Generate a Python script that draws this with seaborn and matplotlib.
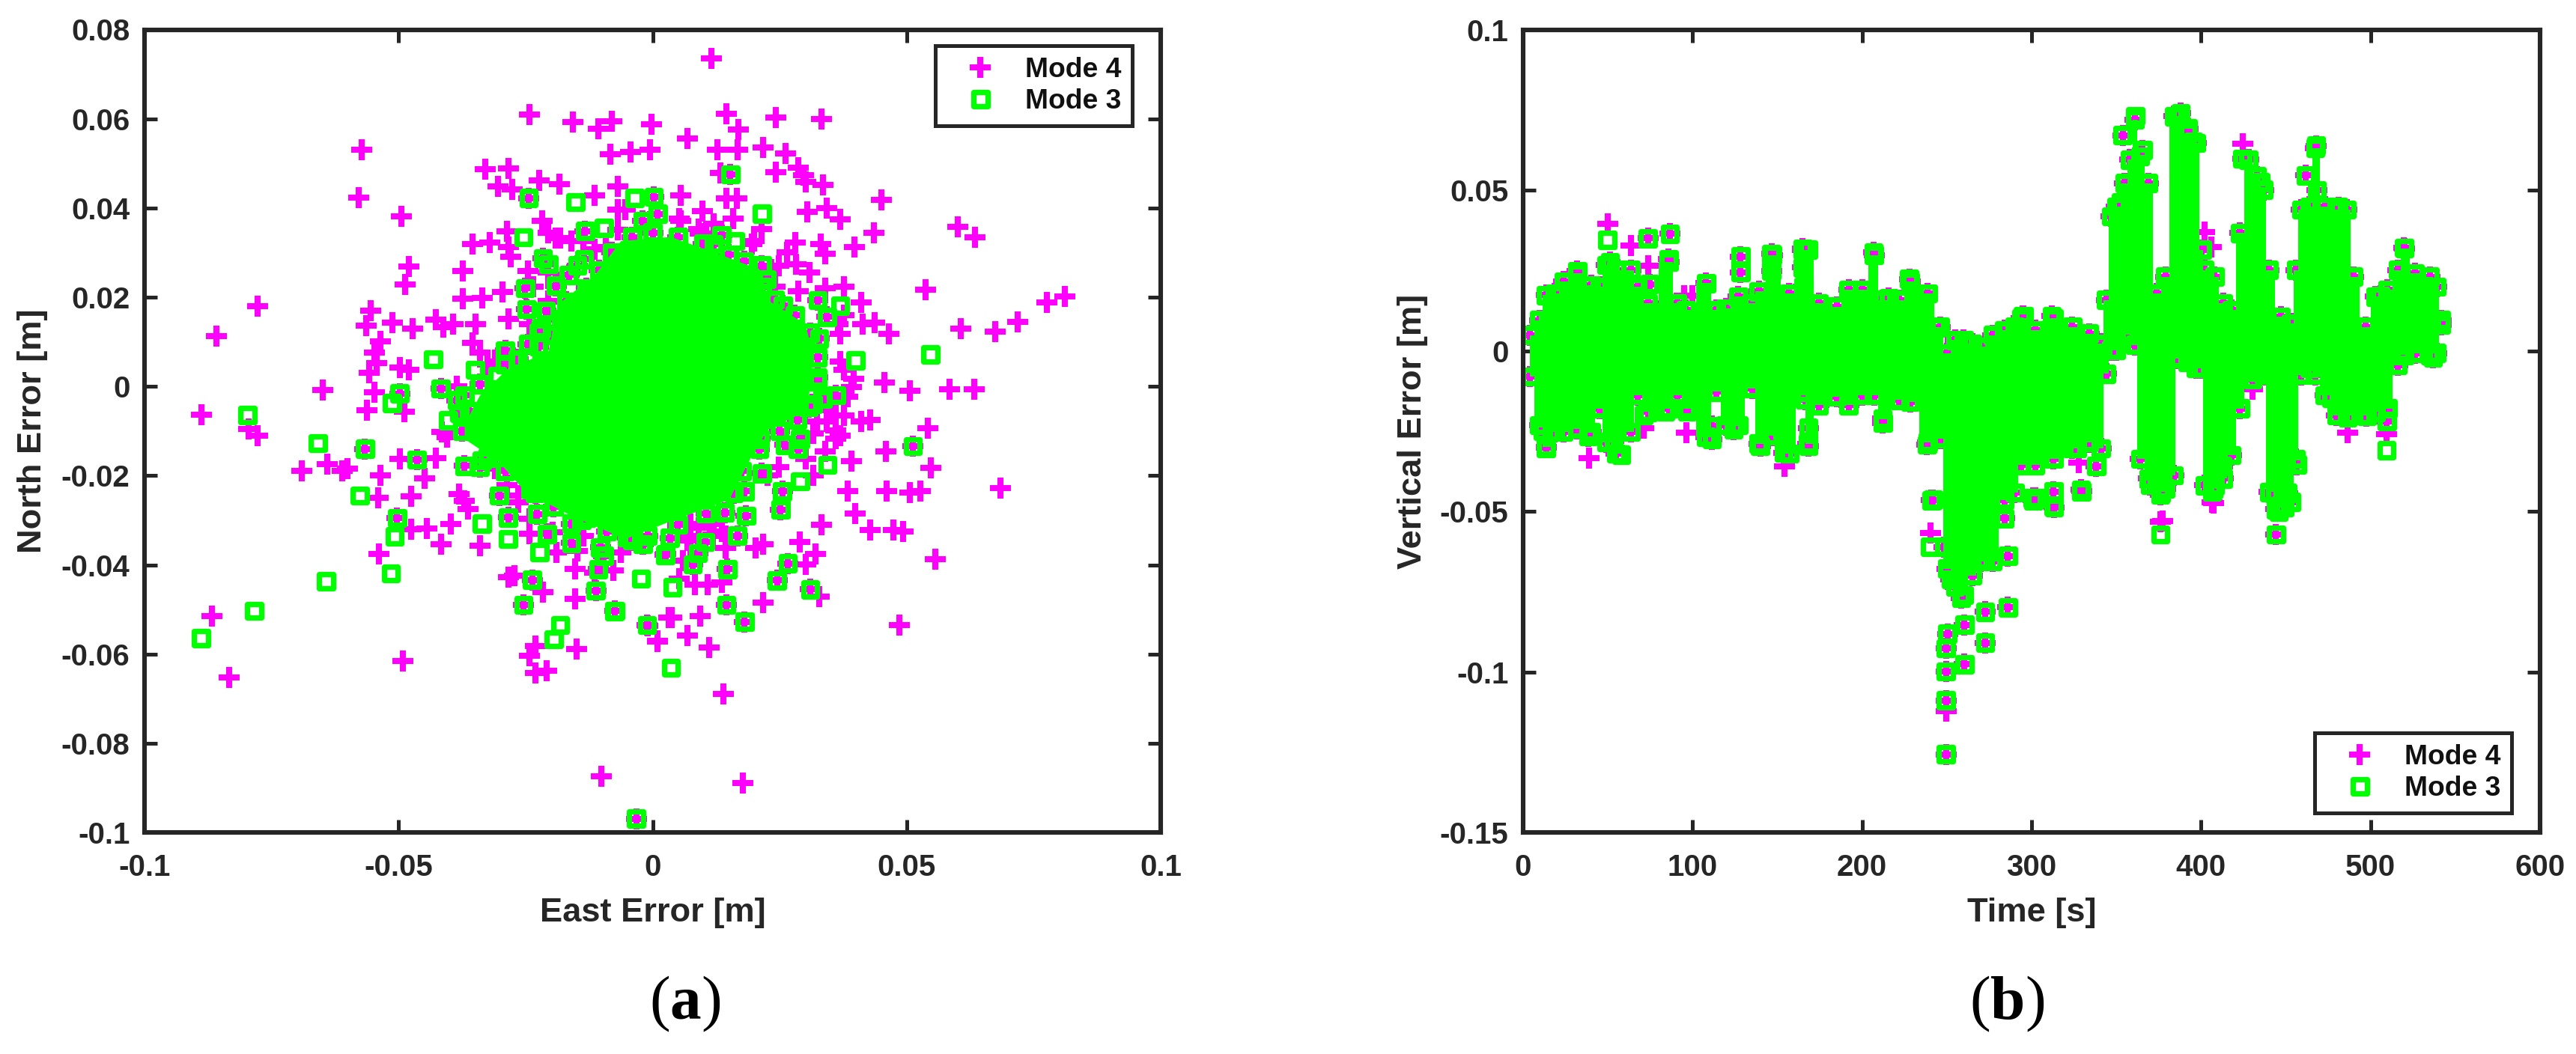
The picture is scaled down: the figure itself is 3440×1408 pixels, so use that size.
import numpy as np
import pandas as pd
import matplotlib
matplotlib.use("Agg")
import matplotlib.pyplot as plt
import seaborn as sns

MAGENTA = "#ff00ff"
GREEN = "#00ff00"
DARK = "#262626"

# panel (a): east / north error [m]
en_mode4_only = [
    (-0.0242, 0.0610), (-0.0157, 0.0593), (-0.0107, 0.0578), (-0.0081, 0.0594), (-0.0002, 0.0587),
    (-0.0084, 0.0520), (-0.0043, 0.0526), (-0.0005, 0.0531), (-0.0573, 0.0530), (-0.0579, 0.0424),
    (-0.0494, 0.0382), (-0.0330, 0.0487), (-0.0284, 0.0488), (-0.0304, 0.0449), (-0.0276, 0.0442),
    (-0.0223, 0.0461), (-0.0184, 0.0454), (-0.0069, 0.0449), (-0.0114, 0.0429), (-0.0218, 0.0371),
    (-0.0287, 0.0348), (-0.0355, 0.0319), (-0.0321, 0.0323), (-0.0284, 0.0313), (-0.0280, 0.0290),
    (-0.0191, 0.0332), (-0.0160, 0.0326), (-0.0114, 0.0307), (-0.0069, 0.0397), (-0.0479, 0.0269),
    (-0.0487, 0.0229), (-0.0374, 0.0258), (-0.0245, 0.0258), (-0.0777, 0.0180), (-0.0858, 0.0112),
    (-0.0555, 0.0170), (-0.0564, 0.0136), (-0.0512, 0.0143), (-0.0472, 0.0129), (-0.0427, 0.0149),
    (-0.0412, 0.0133), (-0.0393, 0.0139), (-0.0348, 0.0139), (-0.0284, 0.0152), (-0.0295, 0.0211),
    (-0.0336, 0.0199), (-0.0374, 0.0196), (-0.0536, 0.0101), (-0.0547, 0.0075), (-0.0543, 0.0053),
    (-0.0498, 0.0043), (-0.0479, 0.0037), (-0.0558, 0.0030), (-0.0355, 0.0098), (-0.0340, 0.0075),
    (-0.0310, 0.0056), (-0.0205, 0.0191), (-0.0205, 0.0152), (-0.0649, -0.0008), (-0.0547, -0.0013),
    (-0.0385, 0.0001), (-0.0888, -0.0064), (-0.0562, -0.0053), (-0.0489, -0.0057), (-0.0795, -0.0095),
    (-0.0777, -0.0111), (-0.0415, -0.0102), (-0.0404, -0.0114),
    (-0.0690, -0.0190), (-0.0641, -0.0175), (-0.0611, -0.0189), (-0.0600, -0.0185), (-0.0498, -0.0163),
    (-0.0536, -0.0200), (-0.0540, -0.0250), (-0.0476, -0.0246), (-0.0449, -0.0206), (-0.0427, -0.0161),
    (-0.0476, -0.0320), (-0.0445, -0.0318), (-0.0397, -0.0309), (-0.0417, -0.0354), (-0.0538, -0.0376),
    (-0.0381, -0.0241), (-0.0370, -0.0256), (-0.0363, -0.0275), (-0.0340, -0.0357), (-0.0242, -0.0331),
    (-0.0284, -0.0428), (-0.0272, -0.0425), (-0.0216, -0.0461), (-0.0152, -0.0410), (-0.0152, -0.0477),
    (-0.0077, -0.0413), (-0.0114, -0.0417), (-0.0148, -0.0369), (-0.0009, -0.0537), (0.0010, -0.0571),
    (0.0032, -0.0518), (-0.0868, -0.0515), (-0.0492, -0.0616), (-0.0833, -0.0652), (-0.0242, -0.0604),
    (-0.0231, -0.0582), (-0.0231, -0.0642), (-0.0208, -0.0638), (-0.0150, -0.0588), (-0.0101, -0.0874),
    (-0.0062, -0.0372), (-0.0190, -0.0372), (-0.0265, -0.0245),
    (0.0115, 0.0735), (0.0145, 0.0611), (0.0169, 0.0576), (0.0243, 0.0603), (0.0333, 0.0600),
    (0.0069, 0.0555), (0.0128, 0.0531), (0.0167, 0.0531), (0.0218, 0.0536), (0.0262, 0.0522),
    (0.0286, 0.0490), (0.0297, 0.0474), (0.0242, 0.0480), (0.0301, 0.0458), (0.0335, 0.0452),
    (0.0134, 0.0478), (0.0450, 0.0419), (0.0145, 0.0422), (0.0166, 0.0422), (0.0056, 0.0429),
    (0.0098, 0.0393), (0.0158, 0.0377), (0.0056, 0.0371), (0.0305, 0.0391), (0.0343, 0.0400),
    (0.0369, 0.0374), (0.0215, 0.0352), (0.0200, 0.0326), (0.0094, 0.0342), (0.0435, 0.0344),
    (0.0397, 0.0313), (0.0600, 0.0358), (0.0634, 0.0335), (0.0281, 0.0323), (0.0264, 0.0300),
    (0.0331, 0.0319), (0.0339, 0.0297), (0.0282, 0.0274), (0.0309, 0.0255), (0.0248, 0.0271),
    (0.0377, 0.0223), (0.0339, 0.0220), (0.0286, 0.0213), (0.0537, 0.0217), (0.0410, 0.0188),
    (0.0776, 0.0188), (0.0812, 0.0201), (0.0414, 0.0139), (0.0437, 0.0143), (0.0465, 0.0117),
    (0.0606, 0.0130), (0.0674, 0.0123), (0.0719, 0.0145), (0.0369, 0.0117), (0.0369, 0.0056),
    (0.0395, 0.0017), (0.0456, 0.0008), (0.0507, -0.0010), (0.0585, -0.0007), (0.0633, -0.0006),
    (0.0384, -0.0024), (0.0361, -0.0066), (0.0343, -0.0079), (0.0410, -0.0079), (0.0428, -0.0076),
    (0.0542, -0.0094), (0.0369, -0.0111),
    (0.0459, -0.0145), (0.0361, -0.0117), (0.0392, -0.0167), (0.0548, -0.0183), (0.0461, -0.0235),
    (0.0506, -0.0238), (0.0527, -0.0235), (0.0685, -0.0228), (0.0384, -0.0235), (0.0399, -0.0285),
    (0.0333, -0.0310), (0.0428, -0.0322), (0.0474, -0.0322), (0.0493, -0.0325), (0.0556, -0.0388),
    (0.0290, -0.0349), (0.0218, -0.0354), (0.0320, -0.0376), (0.0301, -0.0399), (0.0203, -0.0363),
    (0.0143, -0.0363), (0.0328, -0.0472), (0.0218, -0.0485), (0.0109, -0.0445), (0.0083, -0.0445),
    (0.0053, -0.0431), (0.0136, -0.0440), (0.0038, -0.0519), (0.0094, -0.0515), (0.0069, -0.0558),
    (0.0010, -0.0572), (0.0111, -0.0585), (0.0486, -0.0535), (0.0139, -0.0690), (0.0177, -0.0890),
    (0.0090, -0.0317), (0.0113, -0.0308), (0.0075, -0.0335), (0.0136, -0.0326), (0.0060, -0.0390),
    (0.0316, -0.0199),
    # the thicker pink fringe just outside the green core
    (0.0377, 0.0159), (0.0365, 0.0139), (0.0377, 0.0037), (0.0392, -0.0002), (0.0346, -0.0053),
    (0.0377, -0.0066), (0.0361, -0.0098), (0.0324, -0.0079), (0.0316, -0.0105), (0.0075, -0.0308),
    (0.0120, -0.0299), (0.0068, -0.0345), (0.0143, -0.0335), (0.0226, -0.0199), (0.0248, -0.0181),
    (0.0301, -0.0163), (0.0339, -0.0145), (-0.0205, 0.0345), (-0.0182, 0.0332), (-0.0137, 0.0326),
    (-0.0092, 0.0313), (-0.0205, 0.0255), (-0.0235, 0.0223), (-0.0242, 0.0139), (-0.0220, 0.0107),
    (-0.0295, 0.0075), (-0.0325, 0.0049), (-0.0054, 0.0397), (-0.0069, 0.0351), (-0.0310, -0.0185),
    (-0.0287, -0.0222), (-0.0265, -0.0260), (-0.0242, -0.0297), (-0.0197, -0.0327), (-0.0137, -0.0335),
    (0.0090, 0.0352), (0.0053, 0.0377), (0.0120, 0.0364), (0.0196, 0.0319), (0.0233, 0.0262),
    (0.0241, 0.0223),
]
en_mode3_only = [
    (-0.0797, -0.0064), (-0.0659, -0.0127), (-0.0432, 0.0061), (-0.0349, 0.0037), (-0.0513, -0.0037),
    (-0.0306, 0.0024), (-0.0254, 0.0334), (-0.0152, 0.0413), (-0.0096, 0.0355), (-0.0035, 0.0422),
    (-0.0576, -0.0245), (-0.0508, -0.0336), (-0.0515, -0.0419), (-0.0643, -0.0437), (-0.0784, -0.0503),
    (-0.0889, -0.0564), (-0.0336, -0.0308), (-0.0284, -0.0342), (-0.0223, -0.0372), (-0.0023, -0.0431),
    (-0.0182, -0.0535), (-0.0195, -0.0567), (0.0036, -0.0631), (0.0215, 0.0387), (0.0162, 0.0326),
    (0.0547, 0.0072), (0.0399, 0.0058), (0.0344, -0.0176), (0.0290, -0.0213), (-0.0402, -0.0076),
    (-0.0246, 0.0066), (0.0369, 0.0181), (-0.0075, -0.0504), (0.0039, -0.0450),
]
en_both = [
    (-0.0244, 0.0422), (-0.0566, -0.0140), (-0.0498, -0.0016), (-0.0417, -0.0005), (-0.0385, -0.0031),
    (-0.0225, 0.0121), (-0.0248, 0.0173), (-0.0251, 0.0220), (-0.0191, 0.0226), (-0.0148, 0.0271),
    (-0.0205, 0.0274), (-0.0216, 0.0287), (-0.0133, 0.0348), (0.0002, 0.0425), (0.0010, 0.0387),
    (-0.0020, 0.0371), (-0.0464, -0.0164), (-0.0370, -0.0178), (-0.0340, -0.0181), (-0.0336, -0.0166),
    (-0.0503, -0.0295), (-0.0302, -0.0245), (-0.0284, -0.0294), (-0.0227, -0.0286), (-0.0231, -0.0239),
    (-0.0208, -0.0331), (-0.0160, -0.0351), (-0.0160, -0.0308), (-0.0129, -0.0294), (-0.0103, -0.0361),
    (-0.0096, -0.0380), (-0.0107, -0.0410), (-0.0112, -0.0458), (-0.0237, -0.0434), (-0.0254, -0.0490),
    (-0.0074, -0.0503), (-0.0011, -0.0535), (-0.0032, -0.0969), (0.0025, -0.0378), (-0.0020, -0.0354),
    (-0.0050, -0.0339), (0.0153, 0.0475), (0.0136, 0.0339), (0.0120, 0.0319), (0.0215, 0.0271),
    (0.0215, 0.0223), (0.0256, 0.0181), (0.0325, 0.0193), (0.0343, 0.0156), (0.0328, 0.0107),
    (0.0324, 0.0011), (0.0361, -0.0020), (0.0335, -0.0028), (0.0307, -0.0047), (0.0211, -0.0118),
    (0.0290, -0.0118), (0.0512, -0.0134), (0.0286, -0.0140), (0.0260, -0.0131), (0.0215, -0.0195),
    (0.0181, -0.0235), (0.0255, -0.0235), (0.0252, -0.0276), (0.0142, -0.0283), (0.0184, -0.0290),
    (0.0167, -0.0335), (0.0104, -0.0349), (0.0089, -0.0374), (0.0079, -0.0399), (0.0147, -0.0410),
    (0.0266, -0.0397), (0.0245, -0.0435), (0.0310, -0.0455), (0.0145, -0.0490), (0.0181, -0.0528),
    (0.0026, -0.0376), (0.0034, -0.0340), (-0.0019, -0.0354),
    # squares along the rim of the solid core
    (-0.0340, 0.0005), (-0.0310, -0.0010), (-0.0362, -0.0055), (-0.0345, -0.0085), (-0.0290, 0.0050),
    (-0.0265, 0.0060), (-0.0225, 0.0090), (-0.0195, 0.0115), (-0.0180, 0.0150), (-0.0170, 0.0190),
    (-0.0130, 0.0220), (-0.0105, 0.0260), (-0.0080, 0.0300), (-0.0040, 0.0335), (0.0000, 0.0345),
    (0.0050, 0.0335), (0.0100, 0.0320), (0.0150, 0.0295), (0.0180, 0.0280), (0.0225, 0.0240),
    (0.0240, 0.0195), (0.0280, 0.0160), (0.0310, 0.0120), (0.0325, 0.0065), (0.0325, 0.0020),
    (0.0315, -0.0040), (0.0285, -0.0075), (0.0250, -0.0100), (0.0210, -0.0140), (0.0175, -0.0190),
    (0.0160, -0.0240), (0.0105, -0.0285), (0.0050, -0.0310), (-0.0010, -0.0335), (-0.0040, -0.0345),
    (-0.0090, -0.0325), (-0.0140, -0.0300), (-0.0195, -0.0270), (-0.0240, -0.0230), (-0.0290, -0.0190),
    (-0.0325, -0.0160), (-0.0375, -0.0100), (-0.0380, -0.0060), (-0.0370, -0.0020),
    (-0.0245, 0.0095), (-0.0220, 0.0130), (-0.0210, 0.0170), (-0.0190, 0.0225), (-0.0165, 0.0250),
    (-0.0135, 0.0285), (-0.0290, 0.0080),
]
# the middle of the cloud is solid green in the picture, no single mark can be read there,
# so it is kept as the outline of that region
core_east = [-0.0370, -0.0340, -0.0287, -0.0205, -0.0186, -0.0114, -0.0062, 0.0036, 0.0075, 0.0136,
             0.0211, 0.0230, 0.0301, 0.0316, 0.0305, 0.0226, 0.0196, 0.0151, 0.0023, -0.0060,
             -0.0069, -0.0160, -0.0250, -0.0302, -0.0370]
core_north = [-0.0085, -0.0021, 0.0037, 0.0078, 0.0184, 0.0249, 0.0326, 0.0335, 0.0319, 0.0294,
              0.0262, 0.0191, 0.0139, 0.0069, -0.0053, -0.0098, -0.0154, -0.0254, -0.0308, -0.0345,
              -0.0335, -0.0290, -0.0237, -0.0170, -0.0118]

# panel (b): same idea, envelope of the solid band over time
band_time = [4, 9.6, 13.6, 18.7, 23.8, 32, 40, 45, 49, 55, 63.5, 67.6, 73.7, 86, 91, 96, 108, 114, 119.6, 127,
             135, 139, 147, 157, 165, 168, 174.5, 185, 192, 200, 207, 212, 222, 228.5, 238.7, 246, 250, 255,
             260, 265, 270, 277, 284, 290, 294, 302, 313, 324, 334, 341, 344, 347, 350, 355, 358, 361, 364,
             369, 374, 379, 384, 386, 392, 397, 400.5, 402, 408, 413, 418, 423, 428, 433, 437, 440, 447, 453,
             456, 459, 464, 467.5, 473, 480, 486, 490, 497, 503, 510, 516, 520, 526, 535, 539, 541.5]
band_upper = [0.0078, 0.0125, 0.0203, 0.0208, 0.0245, 0.0271, 0.0234, 0.0229, 0.0297, 0.0281, 0.0281, 0.0229,
              0.0177, 0.0307, 0.0177, 0.0156, 0.0240, 0.0156, 0.0161, 0.0198, 0.0177, 0.0214, 0.0328, 0.0208,
              0.0344, 0.0344, 0.0177, 0.0167, 0.0219, 0.0219, 0.0328, 0.0188, 0.0188, 0.0245, 0.0208, 0.0104,
              0.0021, 0.0063, 0.0063, 0.0052, 0.0042, 0.0078, 0.0094, 0.0104, 0.0130, 0.0094, 0.0130, 0.0104,
              0.0083, 0.0052, 0.0188, 0.0448, 0.0479, 0.0552, 0.0625, 0.0750, 0.0635, 0.0552, 0.0208, 0.0260,
              0.0760, 0.0760, 0.0708, 0.0677, 0.0344, 0.0281, 0.0260, 0.0177, 0.0156, 0.0396, 0.0625, 0.0573,
              0.0531, 0.0281, 0.0135, 0.0115, 0.0281, 0.0469, 0.0479, 0.0661, 0.0479, 0.0469, 0.0469, 0.0260,
              0.0104, 0.0198, 0.0219, 0.0281, 0.0349, 0.0271, 0.0260, 0.0229, 0.0125]
band_lower = [-0.0109, -0.0260, -0.0328, -0.0281, -0.0281, -0.0271, -0.0281, -0.0208, -0.0313, -0.0349, -0.0281,
              -0.0167, -0.0219, -0.0208, -0.0167, -0.0208, -0.0297, -0.0156, -0.0260, -0.0260, -0.0146, -0.0318,
              -0.0292, -0.0349, -0.0156, -0.0318, -0.0198, -0.0172, -0.0198, -0.0167, -0.0167, -0.0240, -0.0182,
              -0.0188, -0.0313, -0.0302, -0.0707, -0.0763, -0.0790, -0.0729, -0.0684, -0.0684, -0.0493, -0.0470,
              -0.0385, -0.0385, -0.0365, -0.0333, -0.0313, -0.0333, -0.0100, -0.0026, -0.0026, 0.0021, 0.0021,
              -0.0010, -0.0365, -0.0427, -0.0438, -0.0458, -0.0417, -0.0052, -0.0063, -0.0083, -0.0083, -0.0448,
              -0.0448, -0.0427, -0.0354, -0.0208, -0.0094, -0.0094, -0.0104, -0.0469, -0.0510, -0.0500, -0.0365,
              -0.0104, -0.0083, -0.0104, -0.0167, -0.0229, -0.0229, -0.0229, -0.0229, -0.0219, -0.0208, -0.0073,
              -0.0042, -0.0036, -0.0042, -0.0036, 0.0052]

tv_mode4_only = [
    (49.9, 0.0396), (63.5, 0.0328), (73.7, 0.0266), (38.7, -0.0335), (71.0, -0.0240), (96.5, -0.0255),
    (154.2, -0.0359), (95.0, 0.0172), (100.0, 0.0172), (424.4, 0.0646), (401.9, 0.0370), (406.2, 0.0323),
    (486.5, -0.0255), (509.6, -0.0260), (328.0, -0.0349), (377.3, -0.0531), (407.3, -0.0474), (430.4, -0.0120),
    (240.2, -0.0566), (249.5, -0.1122), (376.0, -0.0533), (406.5, -0.0471),
]
tv_mode3_only = [
    (49.7, 0.0346), (57.8, -0.0323), (71.1, -0.0200), (83.9, -0.0188), (243.8, 0.0073), (361.2, 0.0732),
    (435.0, 0.0526), (509.4, -0.0310), (240.2, -0.0611), (376.0, -0.0572),
]
tv_both = [
    (73.7, 0.0351), (86.6, 0.0365), (128.3, 0.0294), (128.3, 0.0245), (146.6, 0.0302), (146.6, 0.0250),
    (165.0, 0.0318), (165.0, 0.0260), (165.4, 0.0200), (206.7, 0.0307), (227.9, 0.0224), (215.7, 0.0164),
    (32.0, 0.0248), (14.7, 0.0097), (51.3, 0.0276), (74.7, 0.0208), (85.9, 0.0286), (13.6, -0.0302),
    (11.6, -0.0250), (38.5, -0.0266), (53.4, -0.0281), (96.8, -0.0188), (111.4, -0.0276), (111.4, -0.0234),
    (124.2, -0.0245), (139.9, -0.0297), (153.2, -0.0250), (153.8, -0.0318), (168.4, -0.0297), (168.4, -0.0240),
    (166.4, -0.0151), (212.2, -0.0224), (238.3, -0.0292), (241.8, -0.0464), (295.3, 0.0109), (300.8, -0.0458),
    (388.0, 0.0740), (392.3, 0.0693), (353.7, 0.0672), (365.5, 0.0625), (352.7, 0.0464), (395.5, 0.0651),
    (424.4, 0.0599), (467.9, 0.0639), (461.9, 0.0547), (468.3, 0.0500), (481.2, 0.0448), (481.2, 0.0391),
    (519.7, 0.0321), (505.8, 0.0172), (351.6, 0.0349), (294.9, 0.0109), (312.0, 0.0109),
    (476.9, -0.0146), (486.5, -0.0208), (497.6, -0.0203), (509.6, -0.0219), (536.8, -0.0021), (338.1, -0.0359),
    (329.1, -0.0432), (302.4, -0.0458), (313.0, -0.0484), (313.0, -0.0438), (327.0, -0.0302), (376.2, -0.0443),
    (369.8, -0.0417), (377.3, -0.0394), (407.3, -0.0432), (412.6, -0.0359), (450.0, -0.0354), (456.5, -0.0354),
    (445.8, -0.0500), (443.7, -0.0448), (430.4, -0.0089), (241.0, -0.0465), (301.0, -0.0465), (313.2, -0.0488),
    (329.4, -0.0437), (284.0, -0.0521), (286.0, -0.0639), (286.0, -0.0799), (272.6, -0.0813), (272.6, -0.0909),
    (260.4, -0.0853), (260.4, -0.0976), (250.3, -0.0881), (249.5, -0.0926), (249.5, -0.0999), (249.5, -0.1089),
    (249.5, -0.1257), (258.4, -0.0769), (252.3, -0.0712), (406.5, -0.0437), (444.2, -0.0572), (444.2, -0.0493),
    (449.0, -0.0488), (376.0, -0.0448), (451.0, -0.0443), (272.6, -0.0651), (248.3, -0.0611),
]

a_xticks = [-0.1, -0.05, 0, 0.05, 0.1]
a_xlabels = ["-0.1", "-0.05", "0", "0.05", "0.1"]
a_yticks = [-0.1, -0.08, -0.06, -0.04, -0.02, 0, 0.02, 0.04, 0.06, 0.08]
a_ylabels = ["-0.1", "-0.08", "-0.06", "-0.04", "-0.02", "0", "0.02", "0.04", "0.06", "0.08"]
b_xticks = [0, 100, 200, 300, 400, 500, 600]
b_yticks = [-0.15, -0.1, -0.05, 0, 0.05, 0.1]
b_ylabels = ["-0.15", "-0.1", "-0.05", "0", "0.05", "0.1"]

sns.set_theme(style="white")
plt.rcParams["font.family"] = ["Liberation Sans", "DejaVu Sans"]
plt.rcParams["font.weight"] = "bold"
plt.rcParams["axes.labelweight"] = "bold"
plt.rcParams["mathtext.fontset"] = "custom"
plt.rcParams["mathtext.rm"] = "Liberation Serif"
plt.rcParams["mathtext.bf"] = "Liberation Serif:bold"

W, H = 3440, 1408


def box(x0, y0, x1, y1):
    return [x0 / W, 1 - y1 / H, (x1 - x0) / W, (y1 - y0) / H]


def draw_marks(ax, mode4, mode3, label=True):
    p4 = pd.DataFrame(mode4, columns=["x", "y"])
    p3 = pd.DataFrame(mode3, columns=["x", "y"])
    sns.scatterplot(data=p4, x="x", y="y", ax=ax, marker="+", s=100, color=MAGENTA, linewidth=2.9,
                    zorder=2, label="Mode 4" if label else None)
    sns.scatterplot(data=p3, x="x", y="y", ax=ax, marker="s", s=45, facecolor="none", edgecolor=GREEN,
                    linewidth=2.6, zorder=4, label="Mode 3" if label else None)


def style_axes(ax, xlim, ylim, xticks, xlabels, yticks, ylabels, xlabel, ylabel, ylabel_x):
    ax.set_xlim(xlim)
    ax.set_ylim(ylim)
    ax.set_xticks(xticks, labels=xlabels)
    ax.set_yticks(yticks, labels=ylabels)
    ax.tick_params(axis="x", direction="in", length=6, width=1.8, top=True, bottom=True, pad=10,
                   labelsize=14.5, colors=DARK)
    ax.tick_params(axis="y", direction="in", length=6, width=1.8, left=True, right=True, pad=7,
                   labelsize=14.5, colors=DARK)
    ax.set_xlabel(xlabel, fontsize=16.3, color=DARK, va="center")
    ax.set_ylabel(ylabel, fontsize=16.3, color=DARK, va="center")
    ax.xaxis.set_label_coords(0.5, -0.1)
    ax.yaxis.set_label_coords(ylabel_x, 0.5)
    for spine in ax.spines.values():
        spine.set_visible(True)
        spine.set_color(DARK)
        spine.set_linewidth(2.2)
        spine.set_zorder(6)


def add_legend(ax, x0, y0, ax_box):
    ax_l, ax_t, ax_r, ax_b = ax_box
    anchor = ((x0 - ax_l) / (ax_r - ax_l), (ax_b - y0) / (ax_b - ax_t))
    leg = ax.legend(loc="upper left", bbox_to_anchor=anchor, borderaxespad=0, fontsize=13.4,
                    fancybox=False, framealpha=1, edgecolor=DARK, borderpad=0.4, labelspacing=0.2,
                    handletextpad=0.38, handlelength=2.44, scatterpoints=1, scatteryoffsets=[0.5])
    leg.get_frame().set_linewidth(1.8)
    leg.set_zorder(8)
    for t in leg.get_texts():
        t.set_color("#111111")


fig = plt.figure(figsize=(W / 200, H / 200), dpi=200, facecolor="white")

a_box = (193, 39.5, 1550, 1112)
ax_a = fig.add_axes(box(*a_box))
draw_marks(ax_a, en_mode4_only + en_both, en_mode3_only + en_both)
ax_a.fill(core_east, core_north, color=GREEN, lw=0, zorder=3)
style_axes(ax_a, (-0.1, 0.1), (-0.1, 0.08), a_xticks, a_xlabels, a_yticks, a_ylabels,
           "East Error [m]", "North Error [m]", -0.110)
add_legend(ax_a, 1249, 61, a_box)

b_box = (2034, 40, 3392, 1112)
ax_b = fig.add_axes(box(*b_box))
draw_marks(ax_b, tv_mode4_only + tv_both, tv_mode3_only + tv_both)
rim_up = np.array(band_upper) - 0.0029
rim_low = np.array(band_lower) + 0.0029
rim = pd.DataFrame({"x": band_time + band_time, "y": np.concatenate([rim_up, rim_low])})
draw_marks(ax_b, rim, rim, label=False)
ax_b.fill_between(band_time, rim_low, rim_up, step="mid", color=GREEN, lw=0, zorder=3)
style_axes(ax_b, (0, 600), (-0.15, 0.1), b_xticks, [str(v) for v in b_xticks], b_yticks, b_ylabels,
           "Time [s]", "Vertical Error [m]", -0.1085)
add_legend(ax_b, 3091, 979, b_box)

fig.text(915 / W, 1 - 1341 / H, r"($\mathbf{a}$)", fontsize=30, family="Liberation Serif", weight="normal",
         ha="center", va="center", color="black")
fig.text(2680 / W, 1 - 1341 / H, r"($\mathbf{b}$)", fontsize=30, family="Liberation Serif", weight="normal",
         ha="center", va="center", color="black")

fig.savefig("out.png", dpi=200, facecolor="white")
